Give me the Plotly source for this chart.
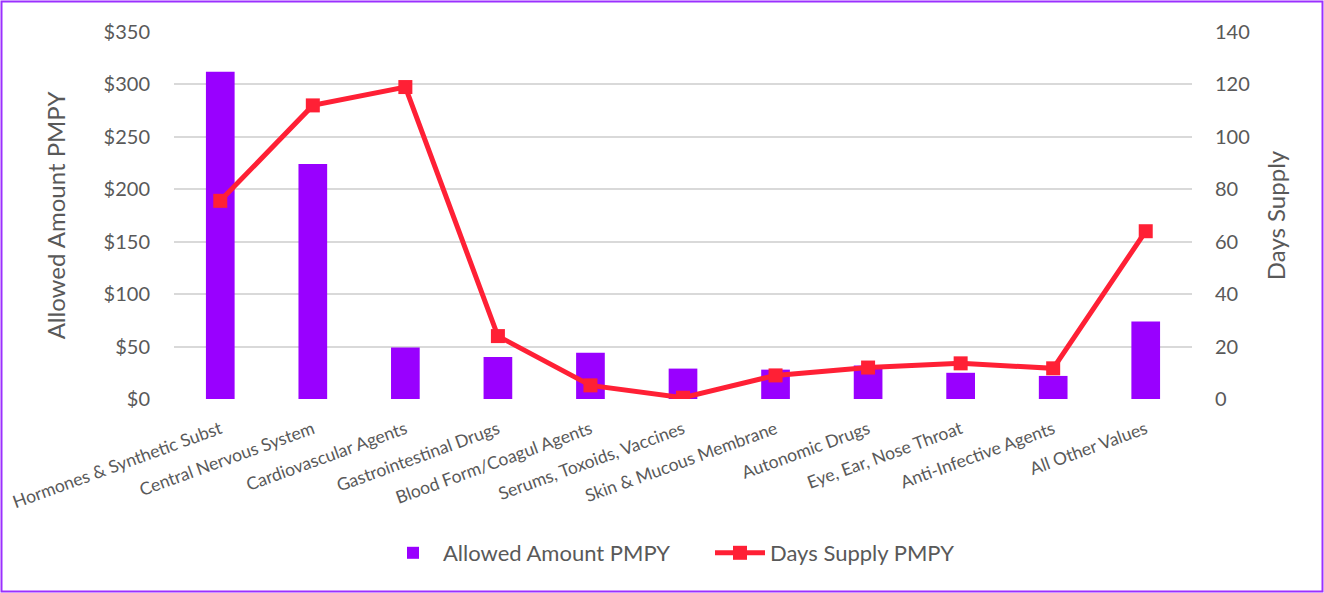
import plotly.graph_objects as go

categories = ["Hormones & Synthetic Subst", "Central Nervous System", "Cardiovascular Agents",
              "Gastrointestinal Drugs", "Blood Form/Coagul Agents", "Serums, Toxoids, Vaccines",
              "Skin & Mucous Membrane", "Autonomic Drugs", "Eye, Ear, Nose Throat",
              "Anti-Infective Agents", "All Other Values"]
allowed_amount = [312, 224, 49, 40, 44, 29, 28, 32, 25, 22, 74]
days_supply = [75.6, 112, 119, 24, 5.2, 0.5, 9, 12, 13.6, 11.7, 64]
left_ticks = [0, 50, 100, 150, 200, 250, 300, 350]
left_tick_labels = ["$0", "$50", "$100", "$150", "$200", "$250", "$300", "$350"]
right_ticks = [0, 20, 40, 60, 80, 100, 120, 140]

FONT = "Lato"
GRAY = "#595959"
PURPLE = "#9900FF"
RED = "#FF2035"

fig = go.Figure()
fig.add_trace(go.Bar(x=categories, y=allowed_amount, name="Allowed Amount PMPY",
                     marker=dict(color=PURPLE, line=dict(width=0)), yaxis="y"))
fig.add_trace(go.Scatter(x=categories, y=days_supply, name="Days Supply PMPY", mode="lines+markers",
                         line=dict(color=RED, width=5),
                         marker=dict(symbol="square", size=14, color=RED), yaxis="y2"))

W, H = 1324, 593
L, R, T, B = 174, 132, 32, 194
pw = W - L - R
ph = H - T - B

def px(x):
    return (x - L) / pw

def py(y):
    return (H - B - y) / ph

fig.update_layout(
    width=W, height=H,
    margin=dict(l=L, r=R, t=T, b=B, autoexpand=False),
    plot_bgcolor="white", paper_bgcolor="white",
    font=dict(family=FONT, color=GRAY),
    bargap=0.69,
    showlegend=True,
    legend=dict(orientation="h", x=px(710), xanchor="center", y=py(553), yanchor="middle",
                font=dict(size=22, color=GRAY, family=FONT), itemwidth=50, tracegroupgap=0,
                entrywidth=262),
    xaxis=dict(range=[-0.5, len(categories) - 0.5], tickangle=-20,
               tickfont=dict(size=17.5, color=GRAY, family=FONT), automargin=False,
               showgrid=False, showline=False, ticks="", ticklabelstandoff=16),
    yaxis=dict(range=[0, 350], tickmode="array", tickvals=left_ticks, ticktext=left_tick_labels,
               tickfont=dict(size=20, color=GRAY, family=FONT), automargin=False,
               gridcolor="#D9D9D9", gridwidth=1.5, zeroline=False, showline=False,
               ticks="", ticklabelstandoff=23,
               title=dict(text="Allowed Amount PMPY", font=dict(size=24, color=GRAY, family=FONT), standoff=31)),
    yaxis2=dict(range=[0, 140], tickmode="array", tickvals=right_ticks, overlaying="y", side="right",
                tickfont=dict(size=20, color=GRAY, family=FONT), automargin=False,
                showgrid=False, zeroline=False, showline=False, ticks="", ticklabelstandoff=22,
                title=dict(text="Days Supply", font=dict(size=24, color=GRAY, family=FONT), standoff=19)),
    shapes=[dict(type="rect", xref="paper", yref="paper",
                 x0=px(1.5), x1=px(1322.5), y0=py(591.5), y1=py(1.5),
                 line=dict(color="#9B30FF", width=2), fillcolor="rgba(0,0,0,0)", layer="below")],
)

fig.write_html("out.html", config={"displayModeBar": False},
               post_script="document.body.style.margin='0';document.body.style.overflow='hidden';")
